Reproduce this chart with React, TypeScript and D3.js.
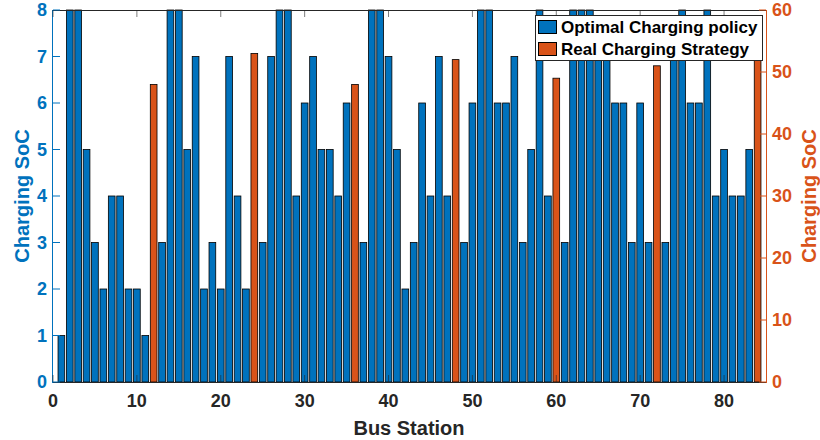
import React from "react";
import * as d3 from "d3";

const stations: number[] = d3.range(1, 85);
const optimalSoC: number[] = [
  1, 8, 8, 5, 3, 2, 4, 4, 2, 2, 1, 0,
  3, 8, 8, 5, 7, 2, 3, 2, 7, 4, 2, 0,
  3, 7, 8, 8, 4, 6, 7, 5, 5, 4, 6, 0,
  3, 8, 8, 7, 5, 2, 3, 6, 4, 7, 4, 0,
  3, 6, 8, 8, 6, 6, 7, 3, 5, 8, 4, 0,
  3, 8, 8, 8, 7, 7, 6, 6, 3, 6, 3, 0,
  3, 7, 8, 6, 6, 8, 4, 5, 4, 4, 5, 0,
];
const realStations: number[] = [12, 24, 36, 48, 60, 72, 84];
const realSoC: number[] = [48, 53, 48, 52, 49, 51, 56];
const xTicks: number[] = [0, 10, 20, 30, 40, 50, 60, 70, 80];
const leftTicks: number[] = [0, 1, 2, 3, 4, 5, 6, 7, 8];
const rightTicks: number[] = [0, 10, 20, 30, 40, 50, 60];
const legendLabels: string[] = ["Optimal Charging policy", "Real Charging Strategy"];

const BLUE = "#0072BD";
const ORANGE = "#D95319";
const DARK = "#262626";
const FONT = "'Liberation Sans', Arial, Helvetica, sans-serif";

export default function App() {
  const W = 820, H = 440;
  const L = 53, R = 766, T = 10, B = 382;
  const x = d3.scaleLinear().domain([0, 85]).range([L, R]);
  const yL = d3.scaleLinear().domain([0, 8]).range([B, T]);
  const yR = d3.scaleLinear().domain([0, 60]).range([B, T]);
  const bw = x(0.8) - x(0);
  const tickLen = 7;

  return (
    <svg width={W} height={H} style={{ position: "absolute", left: 0, top: 0, background: "#fff" }} fontFamily={FONT}>
      <rect x={0} y={0} width={W} height={H} fill="#fff" />
      {/* blue bars */}
      {stations.map((s, i) =>
        optimalSoC[i] > 0 ? (
          <rect key={"b" + s} x={x(s) - bw / 2} y={yL(optimalSoC[i])} width={bw} height={B - yL(optimalSoC[i])}
            fill={BLUE} stroke="#000" strokeWidth={0.8} />
        ) : null
      )}
      {/* orange bars */}
      {realStations.map((s, i) => (
        <rect key={"o" + s} x={x(s) - bw / 2} y={yR(realSoC[i])} width={bw} height={B - yR(realSoC[i])}
          fill={ORANGE} stroke="#000" strokeWidth={0.8} />
      ))}
      {/* box lines */}
      <line x1={L} x2={R} y1={T + 0.5} y2={T + 0.5} stroke={DARK} strokeWidth={1} />
      <line x1={L} x2={R} y1={B + 0.5} y2={B + 0.5} stroke={DARK} strokeWidth={1} />
      <line x1={L - 0.5} x2={L - 0.5} y1={T} y2={B + 1} stroke={BLUE} strokeWidth={1} />
      <line x1={R + 0.5} x2={R + 0.5} y1={T} y2={B + 1} stroke={ORANGE} strokeWidth={1} />
      {/* x ticks */}
      {xTicks.map((t) => (
        <g key={"xt" + t}>
          <line x1={x(t)} x2={x(t)} y1={B} y2={B - tickLen} stroke={DARK} strokeOpacity={0.6} strokeWidth={1} />
          <line x1={x(t)} x2={x(t)} y1={T} y2={T + tickLen} stroke={DARK} strokeOpacity={0.6} strokeWidth={1} />
          <text x={x(t)} y={407} textAnchor="middle" fontSize={18} fontWeight="bold" fill={DARK}>{t}</text>
        </g>
      ))}
      {/* left ticks */}
      {leftTicks.map((t) => (
        <g key={"lt" + t}>
          <line x1={L} x2={L + tickLen} y1={yL(t)} y2={yL(t)} stroke={BLUE} strokeWidth={1} />
          <text x={47} y={yL(t)} dy="0.35em" textAnchor="end" fontSize={18} fontWeight="bold" fill={BLUE}>{t}</text>
        </g>
      ))}
      {/* right ticks */}
      {rightTicks.map((t) => (
        <g key={"rt" + t}>
          <line x1={R} x2={R - tickLen} y1={yR(t)} y2={yR(t)} stroke={ORANGE} strokeWidth={1} />
          <text x={772} y={yR(t)} dy="0.35em" textAnchor="start" fontSize={18} fontWeight="bold" fill={ORANGE}>{t}</text>
        </g>
      ))}
      {/* axis labels */}
      <text x={409} y={435} textAnchor="middle" fontSize={20} fontWeight="bold" fill={DARK}>Bus Station</text>
      <text transform={`translate(29,${(T + B) / 2}) rotate(-90)`} textAnchor="middle" fontSize={20} fontWeight="bold" fill={BLUE}>Charging SoC</text>
      <text transform={`translate(816,${(T + B) / 2}) rotate(-90)`} textAnchor="middle" fontSize={20} fontWeight="bold" fill={ORANGE}>Charging SoC</text>
      {/* legend */}
      <g>
        <rect x={535.5} y={15.5} width={227} height={45} fill="#fff" stroke={DARK} strokeWidth={1} />
        {legendLabels.map((lab, i) => (
          <g key={lab}>
            <rect x={538.5} y={20.5 + i * 22} width={18} height={13} fill={i === 0 ? BLUE : ORANGE} stroke="#000" strokeWidth={1} />
            <text x={561} y={33 + i * 22} fontSize={17} fontWeight="bold" fill="#000">{lab}</text>
          </g>
        ))}
      </g>
    </svg>
  );
}
